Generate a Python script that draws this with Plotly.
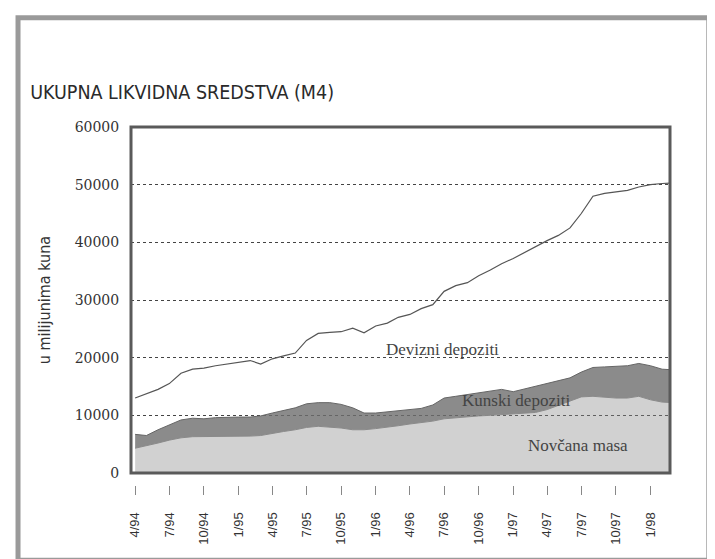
import pandas as pd
import plotly.graph_objects as go

months = pd.date_range("1994-04-01", periods=48, freq="MS")

# million kuna (stack: novcana -> kunski -> devizni)
novcana_masa = [4300, 4700, 5200, 5700, 6100, 6300, 6300, 6300, 6300, 6300,
                6400, 6500, 6900, 7200, 7500, 7900, 8100, 8000, 7800, 7500,
                7500, 7700, 7900, 8200, 8500, 8700, 9000, 9400, 9600, 9800,
                9900, 10000, 10100, 10200, 10400, 10500, 11000, 11700, 12400, 13200,
                13300, 13100, 13000, 13000, 13300, 12700, 12300, 12200]
kunski_depoziti = [2400, 1800, 2300, 2600, 3100, 3200, 3100, 3300, 3400, 3400,
                   3300, 3400, 3500, 3600, 3800, 4100, 4100, 4200, 4100, 3800,
                   2900, 2700, 2700, 2700, 2500, 2500, 2800, 3600, 3700, 3800,
                   4000, 4200, 4400, 3900, 4200, 4500, 4500, 4300, 4100, 4300,
                   5000, 5300, 5500, 5600, 5700, 5900, 5700, 5700]
devizni_depoziti = [6300, 7300, 7000, 7200, 8100, 8500, 8800, 9000, 9200, 9500,
                    9800, 9000, 9400, 9500, 9500, 11000, 12000, 12200, 12600, 13800,
                    13900, 15100, 15400, 16100, 16500, 17300, 17400, 18500, 19200, 19400,
                    20300, 21000, 21800, 23100, 23700, 24200, 24800, 25200, 26000, 27500,
                    29700, 30100, 30200, 30400, 30600, 31400, 32200, 32400]

tick_dates = ["1994-04-01", "1994-07-01", "1994-10-01", "1995-01-01", "1995-04-01",
              "1995-07-01", "1995-10-01", "1996-01-01", "1996-04-01", "1996-07-01",
              "1996-10-01", "1997-01-01", "1997-04-01", "1997-07-01", "1997-10-01",
              "1998-01-01"]
tick_labels = ["4/94", "7/94", "10/94", "1/95", "4/95", "7/95", "10/95", "1/96",
               "4/96", "7/96", "10/96", "1/97", "4/97", "7/97", "10/97", "1/98"]

narrow = "DejaVu Sans Condensed, Liberation Sans Narrow, Liberation Sans, sans-serif"
serif = "Liberation Serif, Times New Roman, serif"

fig = go.Figure()
fig.add_trace(go.Scatter(x=months, y=novcana_masa, stackgroup="m4", name="Novčana masa",
                         line=dict(color="#8a8a8a", width=1),
                         fillcolor="rgba(140,140,140,0.4)"))
fig.add_trace(go.Scatter(x=months, y=kunski_depoziti, stackgroup="m4", name="Kunski depoziti",
                         line=dict(color="#666666", width=1),
                         fillcolor="rgba(110,110,110,0.8)"))
fig.add_trace(go.Scatter(x=months, y=devizni_depoziti, stackgroup="m4", name="Devizni depoziti",
                         line=dict(color="#555555", width=1.2),
                         fillcolor="rgba(255,255,255,0)"))

# text labels inside the plot
for txt, xd, yv in [("Devizni depoziti", "1996-06-28", 21500),
                    ("Kunski depoziti", "1997-01-07", 12600),
                    ("Novčana masa", "1997-06-22", 4800)]:
    fig.add_annotation(x=xd, y=yv, text=txt, showarrow=False,
                       font=dict(family=serif, size=17, color="#444444"))

# plot frame and the outer border of the panel
fig.add_shape(type="rect", xref="x domain", yref="y domain", x0=0, x1=1, y0=0, y1=1,
              line=dict(color="#5a5a5a", width=3), layer="above")
fig.add_shape(type="rect", xref="paper", yref="paper", x0=-0.2096, x1=1.072,
              y0=-0.21, y1=1.305, line=dict(color="#9a9a9a", width=5))

fig.update_layout(
    width=715, height=559,
    margin=dict(l=123, r=53, t=119, b=82),
    paper_bgcolor="white", plot_bgcolor="white",
    showlegend=False,
    title=dict(text="UKUPNA LIKVIDNA SREDSTVA (M4)", xref="container", yref="container",
               x=0.031, y=1 - 84 / 559, xanchor="left", yanchor="middle",
               font=dict(family=narrow, size=19.5, color="#2a2a2a")),
    xaxis=dict(range=["1994-03-21", "1998-02-22"], tickvals=tick_dates, ticktext=tick_labels,
               tickangle=-90, anchor="free", position=0, showline=False, showgrid=False,
               zeroline=False, ticks="outside", ticklen=9, tickcolor="#888888",
               ticklabelstandoff=12,
               tickfont=dict(family="Liberation Sans, sans-serif", size=13, color="#333333")),
    yaxis=dict(range=[0, 60000], dtick=10000, domain=[0.0335, 1], showline=False,
               zeroline=False, showgrid=True, gridcolor="#444444", griddash="dot",
               gridwidth=1, tickformat="d", ticks="outside", ticklen=8, tickcolor="white",
               tickfont=dict(family="DejaVu Serif, serif", size=14, color="#333333"),
               title=dict(text="u milijunima kuna", standoff=20,
                          font=dict(family=narrow, size=16, color="#333333"))),
)

fig.write_html("out.html")
